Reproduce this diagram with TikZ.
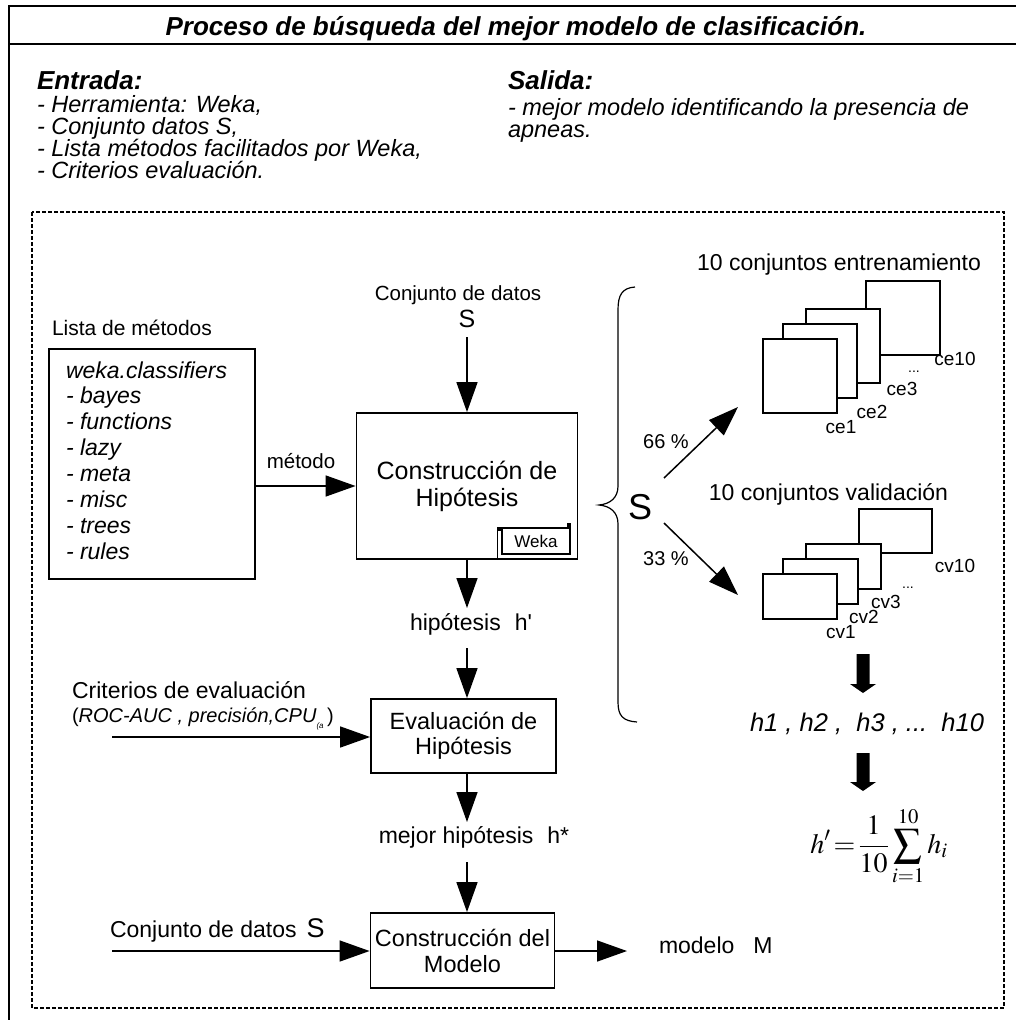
\documentclass[tikz,border=0pt]{standalone}
\usepackage{mathptmx}
\usepackage[no-math]{fontspec}
\setmainfont{Liberation Sans}
\usetikzlibrary{arrows.meta}
\newcommand\fsz[1]{\fontsize{#1}{#1}\selectfont}
\newcommand\fszl[2]{\fontsize{#1}{#2}\selectfont}
\begin{document}
\begin{tikzpicture}[x=1pt,y=-1pt,
  frame/.style={line width=2pt},
  dashbox/.style={line width=1.3pt, dash pattern=on 4pt off 2pt},
  lab/.style={inner sep=0pt, outer sep=0pt},
  box/.style={draw, line width=1.8pt, fill=white, inner sep=0pt, align=center},
  sq/.style={draw, line width=1.5pt, fill=white, inner sep=0pt, anchor=north west},
  arr/.style={line width=1.5pt, -{Triangle[length=30pt,width=21pt]}},
  thickarr/.style={fill=black}
]
\useasboundingbox (0,0) rectangle (1016,1020);
% outer frame
\draw[frame] (9,1040) -- (9,6) -- (1040,6);
\draw[frame] (9,44) -- (1040,44);
\node[lab, anchor=base, font=\fsz{26}\bfseries\itshape] (title) at (516,35) {Proceso de búsqueda del mejor modelo de clasificación.};
% Entrada / Salida
\node[lab, anchor=base west, font=\fsz{26}\bfseries\itshape] (entrada) at (37,89) {Entrada:};
\node[lab, anchor=base west, font=\fsz{26}\bfseries\itshape] (salida) at (508,89) {Salida:};
\foreach \t [count=\i] in {{- Herramienta: Weka,},{- Conjunto datos S,},{- Lista métodos facilitados por Weka,},{- Criterios evaluación.}}
  \node[lab, anchor=base west, font=\fsz{23.5}\itshape] (ent\i) at (37,{112+22.3*(\i-1)}) {\t};
\node[lab, anchor=base west, font=\fsz{23.5}\itshape] (sal1) at (508,115) {- mejor modelo identificando la presencia de};
\node[lab, anchor=base west, font=\fsz{23.5}\itshape] (sal2) at (508,137) {apneas.};
% dashed region
\draw[dashbox] (32,212) rectangle (1004,1008);
% list of methods
\node[lab, anchor=base west, font=\fsz{21}] (listlab) at (52,335) {Lista de métodos};
\node[box, minimum width=206, minimum height=230, anchor=north west] (list) at (48,348) {};
\foreach \t [count=\i] in {weka.classifiers,- bayes,- functions,- lazy,- meta,- misc,- trees,- rules}
  \node[lab, anchor=base west, font=\fsz{23}\itshape] (li\i) at (66,{378+25.9*(\i-1)}) {\t};
% top data set
\node[lab, anchor=base, font=\fsz{20.5}] (cds1) at (458,300) {Conjunto de datos};
\node[lab, anchor=base, font=\fsz{25}] (stop) at (467,327) {S};
\coordinate (a1) at (467,337);
% construction of hypothesis
\node[box, minimum width=221, minimum height=146, font=\fszl{25}{27}] (hyp) at (467,486) {Construcción de\\Hipótesis};
\draw[arr] (a1) -- (a1 |- hyp.north);
\node[draw, line width=1.3pt, fill=white, minimum width=68, minimum height=26, inner sep=0pt, font=\fsz{17}] (weka) at (536,541) {Weka};
\draw[line width=1.3pt] ([xshift=-4pt]weka.north west) -- ([xshift=-4pt,yshift=-4pt]weka.south west);
\fill ([xshift=-4pt]weka.north west) rectangle ++(4,4);
\fill ([yshift=4pt]weka.north east) rectangle ++(-4,4);
% method arrow
\node[lab, anchor=base, font=\fsz{20.5}] (met) at (301,468) {método};
\coordinate (m1) at (256,486);
\draw[arr] (m1) -- (m1 -| hyp.west);
% hypothesis h'
\coordinate (hptip) at (467,608);
\draw[arr] (hyp.south) -- (hptip);
\node[lab, anchor=base, font=\fsz{23}] (hp) at (471,630) {hipótesis\hspace{14pt}h\textquotesingle};
\coordinate (a3) at (467,648);
% evaluation
\node[box, minimum width=185, minimum height=74, font=\fszl{23.5}{25}] (ev) at (463.5,736) {Evaluación de\\Hipótesis};
\draw[arr] (a3) -- (a3 |- ev.north);
\node[lab, anchor=base west, font=\fsz{23}] (crit) at (72,698) {Criterios de evaluación};
\node[lab, anchor=base west, font=\fsz{20}] (roc) at (72,722) {(\textit{ROC-AUC , precisión,CPU}\raisebox{-6pt}{\fsz{8}\textit{(a}}\,)};
\coordinate (c1) at (112,737);
\draw[arr] (c1) -- (c1 -| ev.west);
\coordinate (hstip) at (467,822);
\draw[arr] (ev.south -| a3) -- (hstip);
\node[lab, anchor=base, font=\fsz{23}] (mejor) at (474,843) {mejor hipótesis\hspace{14pt}h*};
\coordinate (a4) at (467,862);
% model construction
\node[box, minimum width=184, minimum height=75, font=\fszl{23.5}{26}] (mod) at (462.5,950.5) {Construcción del\\Modelo};
\draw[arr] (a4) -- (a4 |- mod.north);
\node[lab, anchor=base west, font=\fsz{23}] (cds2) at (110,937) {Conjunto de datos\hspace{10pt}{\fsz{27}S}};
\coordinate (c2) at (112,951);
\draw[arr] (c2) -- (c2 -| mod.west);
\coordinate (motip) at (627,951);
\draw[arr] (mod.east |- c2) -- (motip);
\node[lab, anchor=base west, font=\fsz{23}] (modelo) at (659,953) {modelo\hspace{19pt}M};
% right side: split of S
\draw[line width=1.2pt] (635,287) .. controls (622,288) and (618,295) .. (618,310) -- (618,486)
  .. controls (618,498) and (610,504) .. (599,505) .. controls (610,506) and (618,512) .. (618,524)
  -- (618,702) .. controls (618,716) and (623,721) .. (637,722);
\node[lab, font=\fsz{36}] (sbig) at (640,507) {S};
\node[lab, anchor=base, font=\fsz{20}] (p66) at (666,448) {66 \%};
\node[lab, anchor=base, font=\fsz{20}] (p33) at (666,565) {33 \%};
\coordinate (d1s) at (664,478); \coordinate (d1e) at (738,407);
\coordinate (d2s) at (664,523); \coordinate (d2e) at (738,595);
\draw[arr] (d1s) -- (d1e);
\draw[arr] (d2s) -- (d2e);
% training sets
\node[lab, anchor=base, font=\fsz{23}] (ent10) at (839,270) {10 conjuntos entrenamiento};
\node[sq, minimum width=74, minimum height=74] (ce10) at (865,280) {};
\node[sq, minimum width=74, minimum height=74] (ce3) at (805,308) {};
\node[sq, minimum width=74, minimum height=74] (ce2) at (782,323) {};
\node[sq, minimum width=74, minimum height=74] (ce1) at (762,338) {};
\node[lab, anchor=base, font=\fsz{19}] (lce1) at (841,433) {ce1};
\node[lab, anchor=base, font=\fsz{19}] (lce2) at (872,418) {ce2};
\node[lab, anchor=base, font=\fsz{19}] (lce3) at (902,395) {ce3};
\node[lab, anchor=base, font=\fsz{14}] (lced) at (914,372) {...};
\node[lab, anchor=base, font=\fsz{19}] (lce10) at (955,365) {ce10};
% validation sets
\node[lab, anchor=base, font=\fsz{23}] (val10) at (828.5,500) {10 conjuntos validación};
\node[sq, minimum width=73, minimum height=44] (cv10) at (858,508) {};
\node[sq, minimum width=75, minimum height=45] (cv3) at (805,543) {};
\node[sq, minimum width=75, minimum height=45] (cv2) at (782,558) {};
\node[sq, minimum width=74, minimum height=45] (cv1) at (762,573) {};
\node[lab, anchor=base, font=\fsz{19}] (lcv10) at (955,572) {cv10};
\node[lab, anchor=base, font=\fsz{14}] (lcvd) at (908,588) {...};
\node[lab, anchor=base, font=\fsz{19}] (lcv3) at (886,608) {cv3};
\node[lab, anchor=base, font=\fsz{19}] (lcv2) at (864,623) {cv2};
\node[lab, anchor=base, font=\fsz{19}] (lcv1) at (841,638) {cv1};
% thick arrows and results
\coordinate (t1a) at (863,654); \coordinate (t1b) at (863,693);
\fill[thickarr] (t1a) ++(-6.5,0) -- ++(13,0) -- ++(0,30) -- ++(6.5,0) -- (t1b) -- ++(-13,-9) -- ++(6.5,0) -- cycle;
\node[lab, anchor=base, font=\fsz{25.5}\itshape] (hlist) at (867,731) {h1 , h2 ,\ \ h3 , ...\ \ h10};
\coordinate (t2a) at (863,753); \coordinate (t2b) at (863,791);
\fill[thickarr] (t2a) ++(-6.5,0) -- ++(13,0) -- ++(0,29) -- ++(6.5,0) -- (t2b) -- ++(-13,-9) -- ++(6.5,0) -- cycle;
\node[lab, font=\fsz{28}] (formula) at (879,846) {$\displaystyle h'\!=\!\frac{1}{10}\sum_{i=1}^{10}h_i$};
\end{tikzpicture}
\end{document}
